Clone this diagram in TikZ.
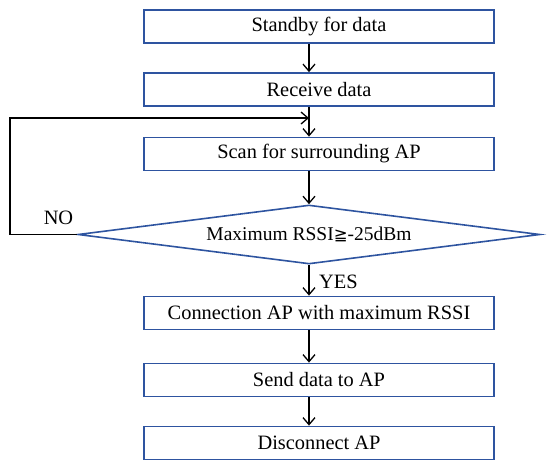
\documentclass[tikz,border=0pt]{standalone}
\usepackage{fontspec}
\setmainfont{Liberation Serif}
\newfontfamily\symfont{DejaVu Sans}
\usepackage{tikz}
\usetikzlibrary{shapes.geometric,arrows.meta,calc}
\definecolor{boxblue}{RGB}{46,84,160}
\tikzset{
  stepbox/.style={draw=boxblue,line width=1.8pt,minimum width=350pt,minimum height=33pt,inner sep=0pt,font=\fontsize{20.4}{23}\selectfont},
  decision/.style={diamond,draw=boxblue,line width=1.6pt,shape aspect=7.8,minimum width=462pt,minimum height=59pt,inner sep=0pt,font=\fontsize{19.5}{22}\selectfont},
  flow/.style={line width=1.3pt,-{Straight Barb[length=7pt,width=12pt]}},
  lbl/.style={font=\fontsize{20.4}{23}\selectfont,inner sep=0pt},
}
\begin{document}
\begin{tikzpicture}[x=1pt,y=-1pt]
  \useasboundingbox (0,0) rectangle (550,467);
  \node[stepbox] (standby) at (319,26.5) {Standby for data};
  \node[stepbox] (receive) at (319,89.5) {Receive data};
  \node[stepbox] (scan) at (319,154) {Scan for surrounding AP};
  \node[decision] (dec) at (309,234.5) {Maximum RSSI{\symfont\fontsize{16.5}{19}\selectfont ≧}-25dBm};
  \node[stepbox] (connect) at (319,313) {Connection AP with maximum RSSI};
  \node[stepbox] (send) at (319,380) {Send data to AP};
  \node[stepbox] (disc) at (319,443) {Disconnect AP};
  \node[lbl] (no) at (58.5,218) {NO};
  \node[lbl,anchor=west] (yes) at (319,282) {YES};
  \coordinate (back) at (10,118);
  % main line
  \draw[flow] (standby.south -| dec.north) -- (receive.north -| dec.north);
  \draw[flow] (receive.south -| dec.north) -- (scan.north -| dec.north);
  \draw[flow] (scan.south -| dec.north) -- (dec.north);
  \draw[flow] (dec.south) -- (connect.north -| dec.south);
  \draw[flow] (connect.south -| dec.south) -- (send.north -| dec.south);
  \draw[flow] (send.south -| dec.south) -- (disc.north -| dec.south);
  % retry
  \draw[flow] (dec.west) -| (back) -- (back -| dec.north);
\end{tikzpicture}
\end{document}
